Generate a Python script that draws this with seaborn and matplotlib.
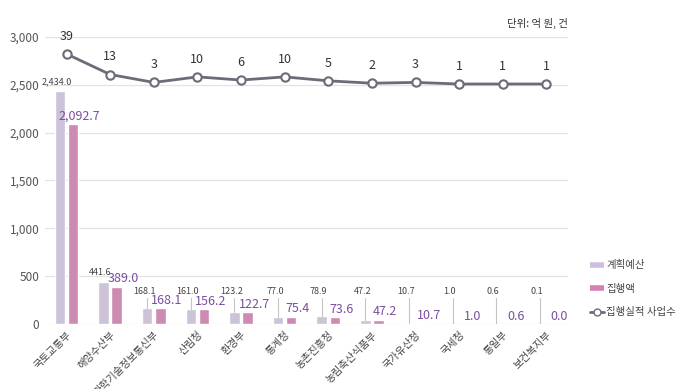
import numpy as np
import pandas as pd
import matplotlib
matplotlib.use("Agg")
import matplotlib.pyplot as plt
import seaborn as sns
from matplotlib.lines import Line2D

# 데이터
부처 = ["국토교통부", "해양수산부", "과학기술정보통신부", "산림청", "환경부", "통계청",
      "농촌진흥청", "농림축산식품부", "국가유산청", "국세청", "통일부", "보건복지부"]
계획예산 = [2434.0, 441.6, 168.1, 161.0, 123.2, 77.0, 78.9, 47.2, 10.7, 1.0, 0.6, 0.1]
집행액 = [2092.7, 389.0, 168.1, 156.2, 122.7, 75.4, 73.6, 47.2, 10.7, 1.0, 0.6, 0.0]
사업수 = [39, 13, 3, 10, 6, 10, 5, 2, 3, 1, 1, 1]

색_계획 = "#cdbfdd"
색_집행 = "#d880b4"
색_선 = "#6f6a78"
색_보라글자 = "#7a4e9e"

sns.set_theme(style="white")
plt.rcParams["font.family"] = ["Noto Sans CJK KR", "DejaVu Sans"]

df = pd.DataFrame({"부처": 부처 * 2,
                   "금액": 계획예산 + 집행액,
                   "구분": ["계획예산"] * len(부처) + ["집행액"] * len(부처)})

fig = plt.figure(figsize=(6.78, 3.89), dpi=100)
ax = fig.add_axes([0.066, 0.167, 0.772, 0.738])

sns.barplot(data=df, x="부처", y="금액", hue="구분", order=부처,
            palette=[색_계획, 색_집행], width=0.6, gap=0.2, ax=ax,
            legend=False, errorbar=None)

ax.set_ylim(0, 3000)
ax.set_xlim(-0.5, len(부처) - 0.5)
ax.set_yticks([0, 500, 1000, 1500, 2000, 2500, 3000])
ax.set_yticklabels(["0", "500", "1,000", "1,500", "2,000", "2,500", "3,000"],
                   fontsize=8.5, color="#555555")
ax.yaxis.grid(True, color="#e3e3e3", linewidth=0.9)
ax.set_axisbelow(True)
for s in ax.spines.values():
    s.set_visible(False)
ax.tick_params(axis="both", length=0, pad=4)
ax.set_xlabel("")
ax.set_ylabel("")
ax.set_xticks(range(len(부처)))
ax.set_xticklabels(부처, rotation=45, ha="right", rotation_mode="anchor",
                   fontsize=7.5, color="#444444")

# 값 라벨
for i, (p, e) in enumerate(zip(계획예산, 집행액)):
    py = p + 50 if p > 300 else 290
    ax.text(i - 0.22, py, f"{p:,.1f}", ha="center", va="bottom",
            fontsize=6.5, color="#444444")
    if py > p + 60:
        ax.plot([i - 0.15, i - 0.15], [p, py - 15], color="#c4c4c4", lw=0.8)
    ey = e + 15
    ax.text(i + 0.3, ey, f"{e:,.1f}", ha="center", va="bottom",
            fontsize=9, color=색_보라글자)

# 사업수 (보조축)
ax2 = ax.twinx()
x = np.arange(len(부처))
sns.lineplot(x=x, y=사업수, ax=ax2, color=색_선, linewidth=2,
             marker="o", markersize=6, markerfacecolor="white",
             markeredgecolor=색_선, markeredgewidth=1.5)
ax2.set_ylim(-302.6, 60.5)
ax2.set_yticks([])
for s in ax2.spines.values():
    s.set_visible(False)
for xi, n in zip(x, 사업수):
    ax2.annotate(str(n), (xi, n), xytext=(0, 8), textcoords="offset points",
                 ha="center", va="bottom", fontsize=9, color="#333333")

fig.text(0.838, 0.925, "단위: 억 원, 건", ha="right", va="bottom",
         fontsize=7.5, color="#333333")

handles = [Line2D([0], [0], color=색_계획, lw=4, solid_capstyle="butt"),
           Line2D([0], [0], color=색_집행, lw=4, solid_capstyle="butt"),
           Line2D([0], [0], color=색_선, lw=2, marker="o", markersize=5,
                  markerfacecolor="white", markeredgecolor=색_선)]
fig.legend(handles, ["계획예산", "집행액", "집행실적 사업수"],
           loc="upper left", bbox_to_anchor=(0.857, 0.355), frameon=False,
           fontsize=7.5, handlelength=1.3, handletextpad=0.2,
           labelspacing=1.3, labelcolor="#444444")

fig.savefig("out.png", dpi=100)
